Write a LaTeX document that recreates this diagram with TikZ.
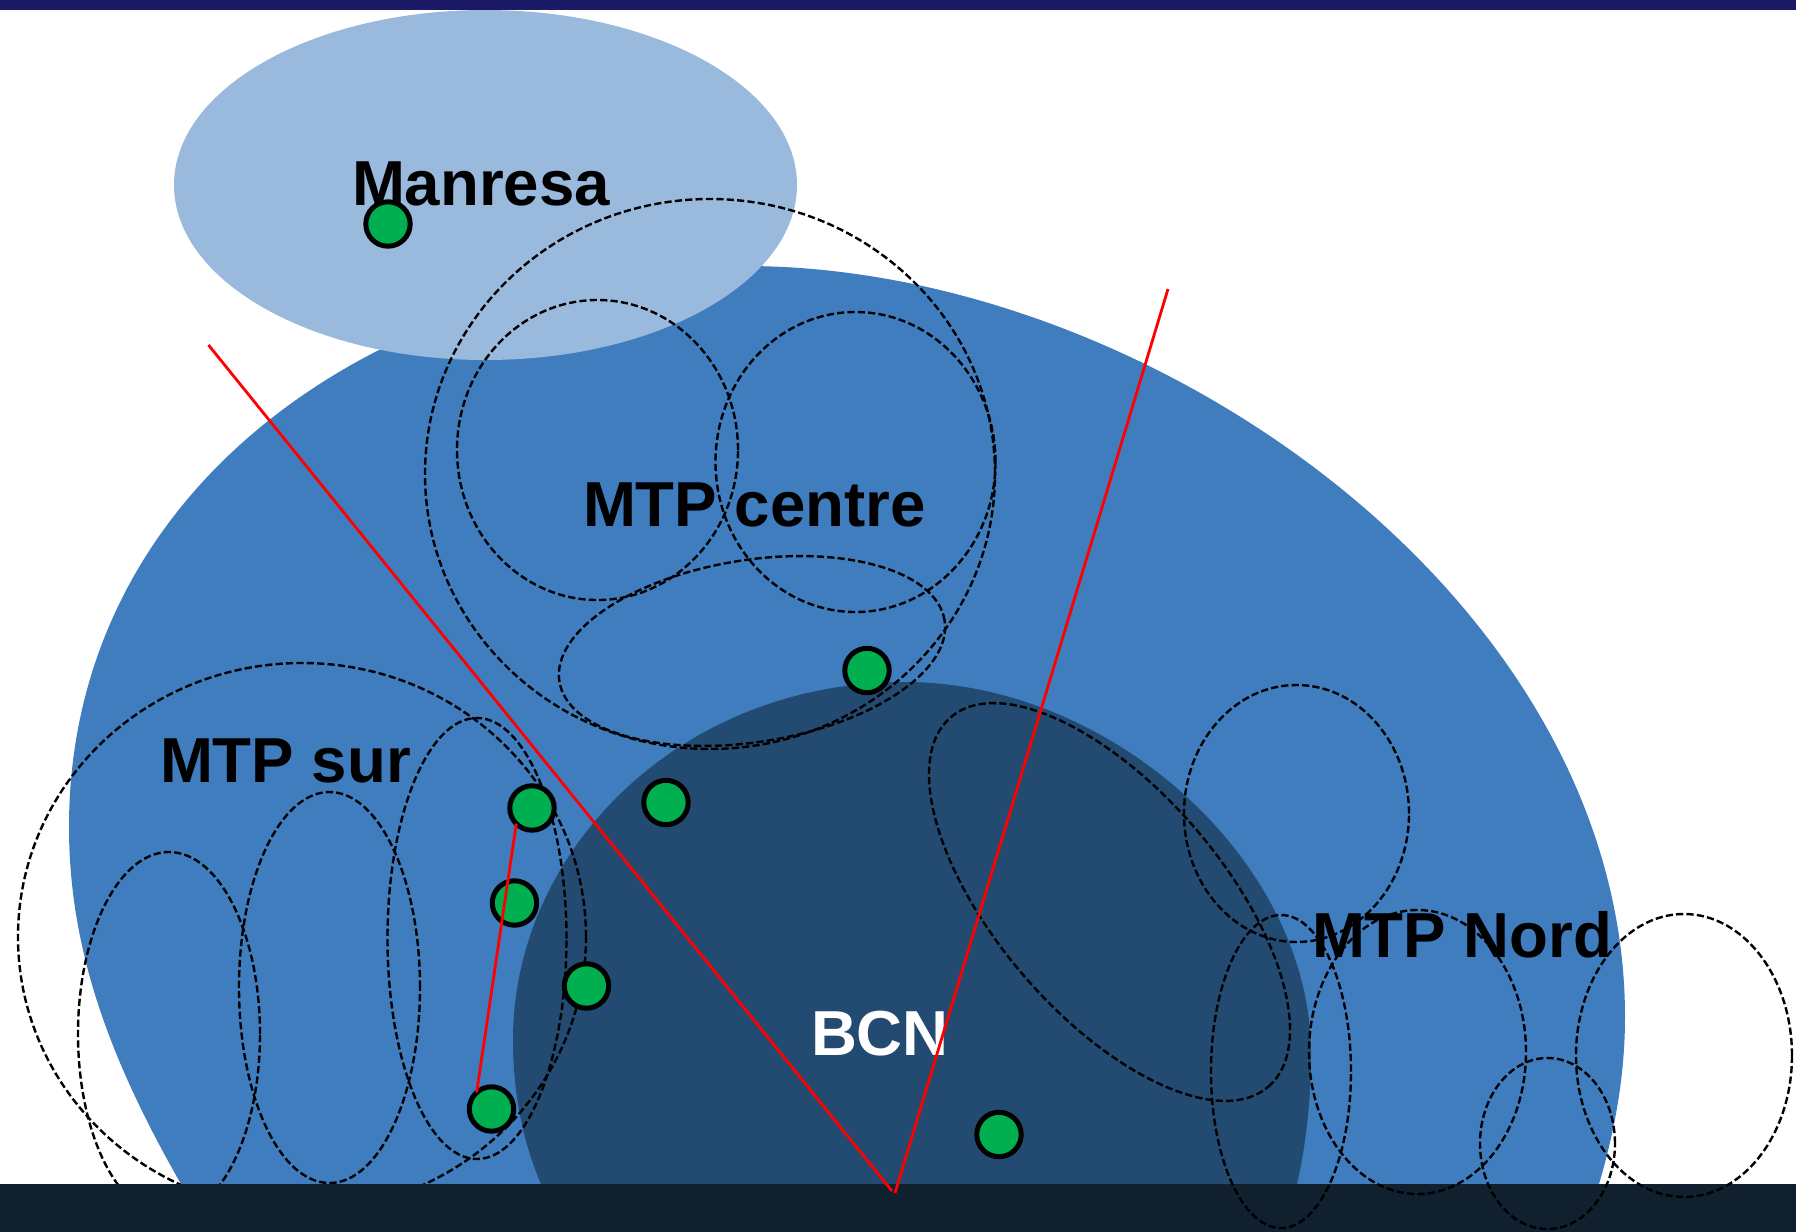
\documentclass[tikz,border=0pt]{standalone}
\usepackage{fontspec}
\setmainfont{Liberation Sans}
\definecolor{topbar}{HTML}{1A1A66}
\definecolor{bottombar}{HTML}{10202F}
\definecolor{region}{HTML}{407DBF}
\definecolor{city}{HTML}{234A70}
\definecolor{manresa}{HTML}{99B9DD}
\definecolor{dotgreen}{HTML}{00B050}
\newcommand{\dell}[5]{\draw[zone,rotate around={#5:(#1,#2)}] (#1,#2) ellipse [x radius=#3*0.5pt, y radius=#4*0.5pt];}
\tikzset{
  zone/.style={draw=black,line width=1.2pt,dash pattern=on 3.6pt off 1.6pt},
  dot/.style={circle,draw=black,fill=dotgreen,line width=2.5pt,inner sep=0pt,outer sep=0pt,minimum size=22.2pt},
  redline/.style={draw=red,line width=1.4pt},
  label/.style={font=\bfseries\fontsize{31.8pt}{31.8pt}\selectfont,anchor=base west,inner sep=0pt,outer sep=0pt}
}
\begin{document}
\begin{tikzpicture}[x=0.5pt,y=-0.5pt]
\useasboundingbox (0,0) rectangle (1796,1232);
\fill[white] (0,0) rectangle (1796,1232);
% regions
\fill[region] (181,1232) -- (181,1184) .. controls (110,1060) and (69,950) .. (69,827)
  .. controls (69,480) and (390,266) .. (745,266)
  .. controls (1150,266) and (1625,600) .. (1625,1017)
  .. controls (1625,1075) and (1615,1130) .. (1599,1184) -- (1599,1232) -- cycle;
\fill[city] (541,1232) -- (541,1184) .. controls (522,1140) and (513,1090) .. (513,1040)
  .. controls (513,850) and (680,682) .. (905,682)
  .. controls (1110,682) and (1311,860) .. (1311,1054)
  .. controls (1311,1100) and (1306,1145) .. (1297,1184) -- (1297,1232) -- cycle;
\fill[manresa] (485.5,185) ellipse [x radius=155.75pt, y radius=87.5pt];
% zones below the bar
\dell{302}{937}{284}{274}{0}
\dell{169}{1034}{91}{182}{0}
\dell{329.5}{987.5}{90.5}{195.5}{0}
\dell{477}{938.5}{89.5}{220.5}{0}
% bars
\fill[topbar] (0,0) rectangle (1796,10);
\fill[bottombar] (0,1184) rectangle (1796,1232);
% other zones
\dell{710}{474}{285}{275}{0}
\dell{597.5}{450}{140.5}{150}{0}
\dell{855.5}{462}{140}{150}{0}
\dell{752}{651}{195}{91}{9}
\dell{1296.5}{813.5}{112.5}{128.5}{0}
\dell{1109.5}{902}{243.6}{113}{-49.3}
\dell{1281}{1071.5}{70}{156.5}{0}
\dell{1417.5}{1052}{108.5}{142}{0}
\dell{1547.5}{1143.5}{67.5}{85.5}{0}
\dell{1684}{1055.5}{108}{141.5}{0}
% labels
\node[label] (lmanresa) at (352,205) {Manresa};
\node[label] (lcentre) at (583,526) {MTP centre};
\node[label] (lsur) at (160,782) {MTP sur};
\node[label] (lnord) at (1312,957) {MTP Nord};
\node[label,text=white] (lbcn) at (811,1055) {BCN};
% sites
\node[dot] (d0) at (388,224) {};
\node[dot] (dc) at (867,670.5) {};
\node[dot] (d1) at (532,808) {};
\node[dot] (d2) at (514.5,903) {};
\node[dot] (d3) at (586.5,986) {};
\node[dot] (d4) at (491.5,1109) {};
\node[dot] (d5) at (666,802.5) {};
\node[dot] (d6) at (999,1134.5) {};
% red lines
\coordinate (ra) at (208.5,345);
\coordinate (rb) at (892,1191);
\coordinate (rc) at (1168,289);
\coordinate (rd) at (895,1193);
\draw[redline] (ra) -- (rb);
\draw[redline] (rc) -- (rd);
\draw[redline] (d1.225) -- (d4.132);
\end{tikzpicture}
\end{document}
